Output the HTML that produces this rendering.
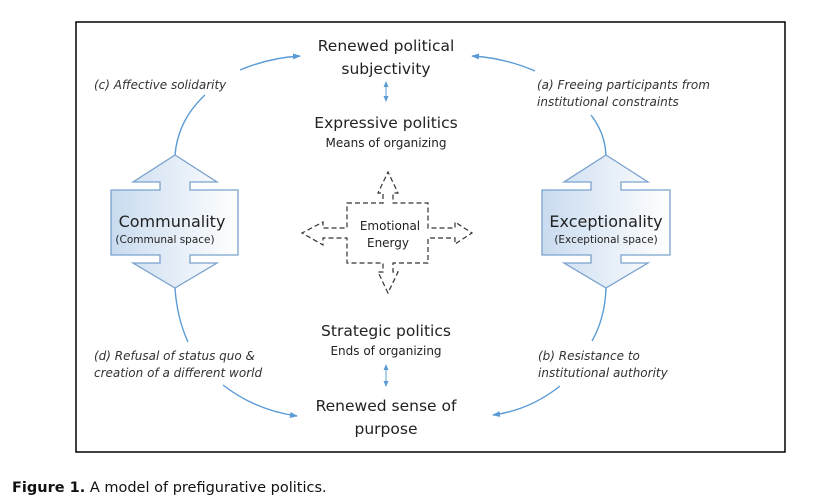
<!DOCTYPE html>
<html><head><style>
body{margin:0;width:818px;height:500px;background:#fff;overflow:hidden;font-family:"DejaVu Sans","Liberation Sans",sans-serif}
svg{position:absolute;left:0;top:0}
</style></head><body>
<svg width="818" height="500" viewBox="0 0 818 500">
<defs>
<linearGradient id="g" x1="0" x2="1" y1="0" y2="0"><stop offset="0" stop-color="#c9dbef"/><stop offset="1" stop-color="#ffffff"/></linearGradient>
<marker id="a" markerWidth="8" markerHeight="8" refX="7" refY="4" orient="auto" markerUnits="userSpaceOnUse"><path d="M0,1 L8,4 L0,7 Z" fill="#5b9bd5"/></marker>
<marker id="b" markerWidth="6" markerHeight="6" refX="5" refY="3" orient="auto-start-reverse" markerUnits="userSpaceOnUse"><path d="M0,0.5 L6,3 L0,5.5 Z" fill="#5b9bd5"/></marker>
</defs>
<rect x="76" y="22" width="709" height="430" fill="none" stroke="#000" stroke-width="1.5"/>
<g stroke="#7aa2cd" stroke-width="1.3">
<path d="M175,155 L217,182 L190,182 L190,190 L238,190 L238,255 L190,255 L190,263 L217,263 L175,288 L133,263 L160,263 L160,255 L111,255 L111,190 L160,190 L160,182 L133,182 Z" fill="url(#g)"/>
<path d="M606,155 L648,182 L621,182 L621,190 L670,190 L670,255 L621,255 L621,263 L648,263 L606,288 L564,263 L591,263 L591,255 L542,255 L542,190 L591,190 L591,182 L564,182 Z" fill="url(#g)"/>
</g>
<g fill="none" stroke="#5b9bd5" stroke-width="1.4">
<path d="M240,70 Q268,58 300,56" marker-end="url(#a)"/>
<path d="M205,95 Q178,120 175,155"/>
<path d="M535,71 Q505,58 472,56" marker-end="url(#a)"/>
<path d="M591,115 Q605,133 606,155"/>
<path d="M175,288 Q177,318 188,342"/>
<path d="M223,385 Q255,410 297,416" marker-end="url(#a)"/>
<path d="M606,288 Q605,318 592,341"/>
<path d="M560,386 Q530,410 493,415" marker-end="url(#a)"/>
</g>
<g fill="none" stroke="#5b9bd5" stroke-width="1">
<path d="M386,82 L386,101" marker-start="url(#b)" marker-end="url(#b)"/>
<path d="M386,365 L386,386" marker-start="url(#b)" marker-end="url(#b)"/>
</g>
<path d="M347,203 L383,203 L383,193 L378,193 L388,172 L398,193 L393,193 L393,203 L428,203 L428,228 L455,228 L455,222 L472,233 L455,244 L455,238 L428,238 L428,263 L393,263 L393,272 L398,272 L388,293 L378,272 L383,272 L383,263 L347,263 L347,238 L323,238 L323,245 L302,233 L323,222 L323,228 L347,228 Z" fill="none" stroke="#333" stroke-width="1.2" stroke-dasharray="5,3"/>
<g fill="#222" font-family="DejaVu Sans,Liberation Sans,sans-serif" text-anchor="middle">
<text x="386" y="51" font-size="15.5">Renewed political</text>
<text x="386" y="74" font-size="15.5">subjectivity</text>
<text x="386" y="128" font-size="15.5">Expressive politics</text>
<text x="386" y="147" font-size="12">Means of organizing</text>
<text x="386" y="336" font-size="15.5">Strategic politics</text>
<text x="386" y="355" font-size="12">Ends of organizing</text>
<text x="386" y="411" font-size="15.5">Renewed sense of</text>
<text x="386" y="434" font-size="15.5">purpose</text>
<text x="390" y="230" font-size="12">Emotional</text>
<text x="388" y="247" font-size="12">Energy</text>
<text x="172" y="227" font-size="16">Communality</text>
<text x="165" y="243" font-size="10.5">(Communal space)</text>
<text x="606" y="227" font-size="16">Exceptionality</text>
<text x="606" y="243" font-size="10.5">(Exceptional space)</text>
</g>
<g fill="#333" font-family="DejaVu Sans,Liberation Sans,sans-serif" font-style="italic" font-size="12">
<text x="94" y="89">(c) Affective solidarity</text>
<text x="537" y="89">(a) Freeing participants from</text>
<text x="537" y="106">institutional constraints</text>
<text x="94" y="360">(d) Refusal of status quo &amp;</text>
<text x="94" y="377">creation of a different world</text>
<text x="538" y="360">(b) Resistance to</text>
<text x="538" y="377">institutional authority</text>
</g>
<text x="12" y="492" font-size="14.5" fill="#111" font-family="DejaVu Sans,Liberation Sans,sans-serif"><tspan font-weight="bold">Figure 1.</tspan>  A model of prefigurative politics.</text>
</svg>
</body></html>
